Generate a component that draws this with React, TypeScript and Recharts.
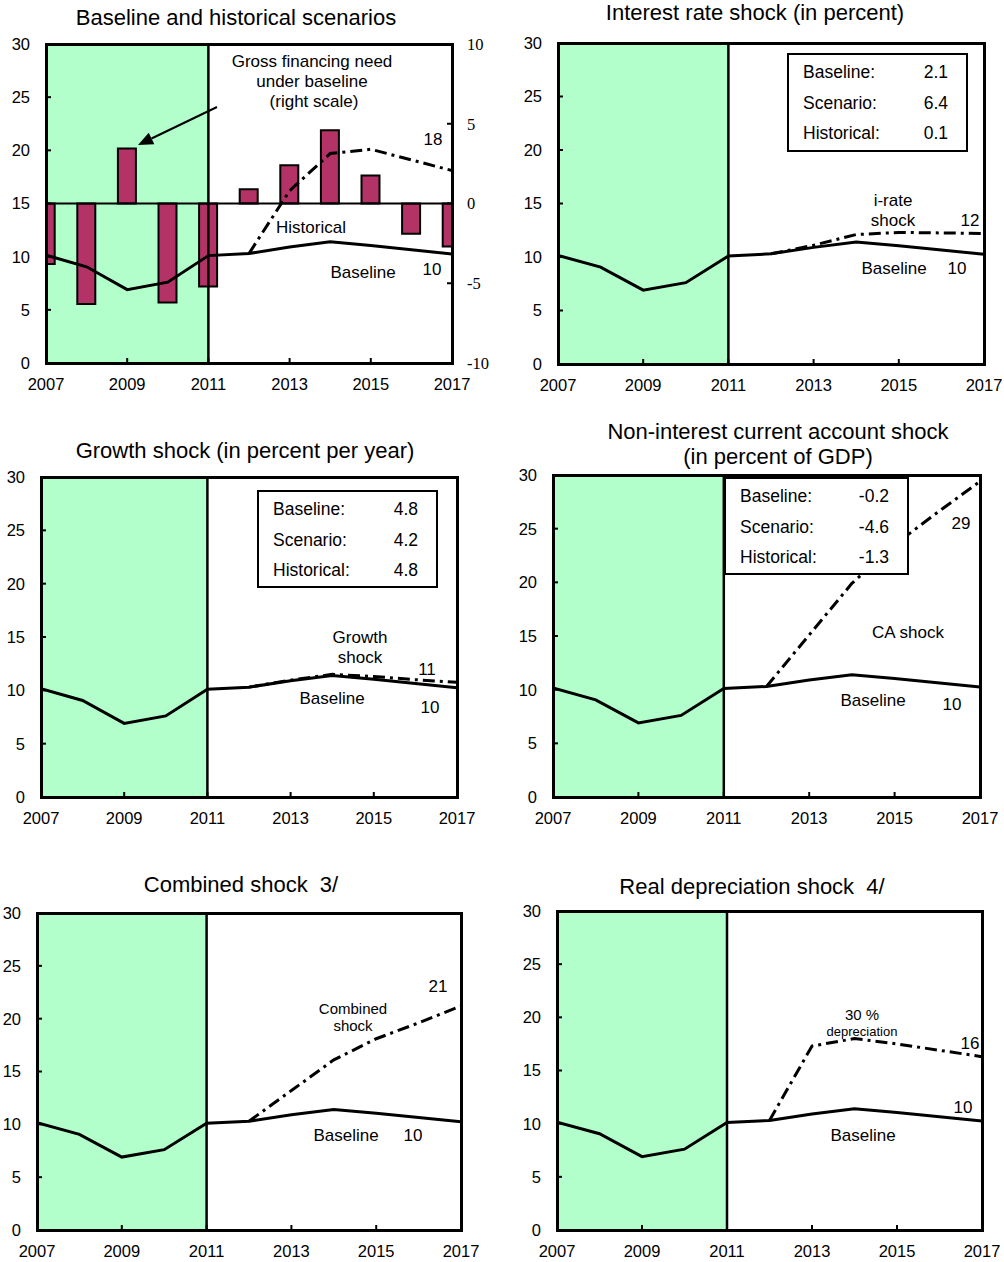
import React from 'react';
import { ComposedChart, Line, Bar, XAxis, YAxis, ReferenceArea, ReferenceLine } from 'recharts';

// years on the x axis
const years = [2007, 2008, 2009, 2010, 2011, 2012, 2013, 2014, 2015, 2016, 2017];
const yearTicks = [2007, 2009, 2011, 2013, 2015, 2017];
const leftTicks = [0, 5, 10, 15, 20, 25, 30];
const rightTicks = [-10, -5, 0, 5, 10];

const baseline = [10.15, 9.05, 6.9, 7.6, 10.1, 10.3, 10.9, 11.4, 11.05, 10.65, 10.25];
const grossFinancing = [-3.8, -6.3, 3.45, -6.2, -5.2, 0.9, 2.4, 4.6, 1.75, -1.9, -2.7];
const historical = [null, null, null, null, null, 10.3, 16.2, 19.7, 20.1, 19.1, 18.1];
const iRateShock = [null, null, null, null, null, 10.3, 11.1, 12.1, 12.3, 12.25, 12.2];
const growthShock = [null, null, null, null, null, 10.3, 10.95, 11.5, 11.3, 11.0, 10.75];
const caShock = [null, null, null, null, null, 10.3, 15.1, 19.9, 23.5, 26.5, 29.4];
const combinedShock = [null, null, null, null, null, 10.3, 13.2, 16.1, 18.1, 19.6, 21.2];
const depreciationShock = [null, null, null, null, null, 10.3, 17.3, 18.0, 17.5, 16.9, 16.3];

const statLabels = ['Baseline:', 'Scenario:', 'Historical:'];
const iRateStats = ['2.1', '6.4', '0.1'];
const growthStats = ['4.8', '4.2', '4.8'];
const caStats = ['-0.2', '-4.6', '-1.3'];

const FONT = '"Liberation Sans", Arial, sans-serif';
const SERIF = '"Liberation Serif", "Times New Roman", serif';
const GREEN = '#b3ffcc';
const BAR = '#b33366';
const DASHDOT = '12 5 3 5';

type Rect = { x: number; y: number; w: number; h: number };

const YW = 45;
const RW = 42;
const TOP = 10;
const XH = 40;

function Panel({ plot, shock, bars }: { plot: Rect; shock: (number | null)[]; bars?: number[] }) {
  const data = years.map((year, i) => ({
    year,
    baseline: baseline[i],
    shock: shock[i],
    gfn: bars ? bars[i] : null,
  }));
  const tickLine = { stroke: '#000', strokeWidth: 2 };
  return (
    <div style={{ position: 'absolute', left: plot.x - YW, top: plot.y - TOP }}>
      <ComposedChart
        width={YW + plot.w + RW}
        height={TOP + plot.h + XH}
        data={data}
        margin={{ top: TOP, right: bars ? 0 : RW, left: 0, bottom: 0 }}
      >
        <XAxis
          dataKey="year"
          type="number"
          domain={[2007, 2017]}
          ticks={yearTicks}
          interval={0}
          allowDataOverflow
          height={XH}
          axisLine={false}
          tickSize={-5}
          tickMargin={20}
          tickLine={tickLine}
          tick={{ fill: '#000', fontSize: 16.5, fontFamily: FONT }}
        />
        <YAxis
          yAxisId="left"
          domain={[0, 30]}
          ticks={leftTicks}
          interval={0}
          width={YW}
          axisLine={false}
          tickSize={-5}
          tickMargin={21}
          tickLine={tickLine}
          tick={{ fill: '#000', fontSize: 16.5, fontFamily: FONT }}
        />
        {bars && (
          <YAxis
            yAxisId="right"
            orientation="right"
            domain={[-10, 10]}
            ticks={rightTicks}
            interval={0}
            width={RW}
            axisLine={false}
            tickSize={-5}
            tickMargin={20}
            tickLine={tickLine}
            tick={{ fill: '#000', fontSize: 16.5, fontFamily: SERIF, textAnchor: 'start' }}
          />
        )}
        <ReferenceArea yAxisId="left" x1={2007} x2={2011} y1={0} y2={30} fill={GREEN} fillOpacity={1} stroke="none" />
        {bars && (
          <Bar
            yAxisId="right"
            dataKey="gfn"
            barSize={18}
            fill={BAR}
            stroke="#000"
            strokeWidth={2}
            isAnimationActive={false}
          />
        )}
        {bars && <ReferenceLine yAxisId="right" y={0} stroke="#000" strokeWidth={2} />}
        <ReferenceLine yAxisId="left" x={2011} stroke="#000" strokeWidth={2.5} />
        <Line
          yAxisId="left"
          dataKey="shock"
          stroke="#000"
          strokeWidth={3}
          strokeDasharray={DASHDOT}
          dot={false}
          activeDot={false}
          isAnimationActive={false}
        />
        <Line
          yAxisId="left"
          dataKey="baseline"
          stroke="#000"
          strokeWidth={3}
          dot={false}
          activeDot={false}
          isAnimationActive={false}
        />
      </ComposedChart>
      {/* plot frame */}
      <div
        style={{
          position: 'absolute',
          left: YW - 1.5,
          top: TOP - 1.5,
          width: plot.w + 3,
          height: plot.h + 3,
          border: '3px solid #000',
          boxSizing: 'border-box',
          pointerEvents: 'none',
        }}
      />
    </div>
  );
}

function Note({ x, y, children, size = 17 }: { x: number; y: number; children: React.ReactNode; size?: number }) {
  return (
    <div
      style={{
        position: 'absolute',
        left: x,
        top: y,
        transform: 'translate(-50%, -50%)',
        fontSize: size,
        fontFamily: FONT,
        lineHeight: 1,
        whiteSpace: 'nowrap',
        color: '#000',
      }}
    >
      {children}
    </div>
  );
}

function StatBox({ left, top, width, height, values }: { left: number; top: number; width: number; height: number; values: string[] }) {
  return (
    <div
      style={{
        position: 'absolute',
        left,
        top,
        width,
        height,
        border: '2px solid #000',
        background: '#fff',
        boxSizing: 'border-box',
        fontFamily: FONT,
        fontSize: 17.5,
      }}
    >
      {statLabels.map((label, i) => (
        <React.Fragment key={label}>
          <div style={{ position: 'absolute', left: 14, top: 20 + 30.5 * i - 2, transform: 'translateY(-50%)', lineHeight: 1 }}>
            {label}
          </div>
          <div style={{ position: 'absolute', right: 18, top: 20 + 30.5 * i - 2, transform: 'translateY(-50%)', lineHeight: 1 }}>
            {values[i]}
          </div>
        </React.Fragment>
      ))}
    </div>
  );
}

function Arrow({ from, to }: { from: [number, number]; to: [number, number] }) {
  const dx = to[0] - from[0];
  const dy = to[1] - from[1];
  const len = Math.hypot(dx, dy);
  const ux = dx / len;
  const uy = dy / len;
  const head = 15;
  const half = 6.5;
  const bx = to[0] - head * ux;
  const by = to[1] - head * uy;
  const pts = `${to[0]},${to[1]} ${bx - half * uy},${by + half * ux} ${bx + half * uy},${by - half * ux}`;
  return (
    <svg width={1004} height={1262} style={{ position: 'absolute', left: 0, top: 0, pointerEvents: 'none' }}>
      <line x1={from[0]} y1={from[1]} x2={bx} y2={by} stroke="#000" strokeWidth={2} />
      <polygon points={pts} fill="#000" />
    </svg>
  );
}

export default function App() {
  return (
    <div style={{ position: 'absolute', left: 0, top: 0, width: 1004, height: 1262, background: '#fff', overflow: 'hidden' }}>
      {/* 1: baseline and historical */}
      <Panel plot={{ x: 46, y: 44, w: 406, h: 319 }} shock={historical} bars={grossFinancing} />
      <Note x={236} y={18} size={22}>Baseline and historical scenarios</Note>
      <Note x={312} y={61}>Gross financing need</Note>
      <Note x={312} y={81}>under baseline</Note>
      <Note x={314} y={101}>(right scale)</Note>
      <Note x={433} y={139}>18</Note>
      <Note x={311} y={227}>Historical</Note>
      <Note x={363} y={272}>Baseline</Note>
      <Note x={432} y={269}>10</Note>
      <Arrow from={[217, 107]} to={[138, 145]} />

      {/* 2: interest rate */}
      <Panel plot={{ x: 558, y: 43, w: 426, h: 321 }} shock={iRateShock} />
      <Note x={755} y={13} size={22}>Interest rate shock (in percent)</Note>
      <StatBox left={787} top={53} width={181} height={99} values={iRateStats} />
      <Note x={893} y={200}>i-rate</Note>
      <Note x={893} y={220}>shock</Note>
      <Note x={970} y={220}>12</Note>
      <Note x={894} y={268}>Baseline</Note>
      <Note x={957} y={268}>10</Note>

      {/* 3: growth */}
      <Panel plot={{ x: 41, y: 477, w: 416, h: 320 }} shock={growthShock} />
      <Note x={245} y={451} size={22}>Growth shock (in percent per year)</Note>
      <StatBox left={257} top={490} width={181} height={98} values={growthStats} />
      <Note x={360} y={637}>Growth</Note>
      <Note x={360} y={657}>shock</Note>
      <Note x={427} y={669}>11</Note>
      <Note x={332} y={698}>Baseline</Note>
      <Note x={430} y={707}>10</Note>

      {/* 4: current account */}
      <Panel plot={{ x: 553, y: 475, w: 427, h: 322 }} shock={caShock} />
      <Note x={778} y={432} size={22}>Non-interest current account shock</Note>
      <Note x={778} y={457} size={22}>(in percent of GDP)</Note>
      <StatBox left={724} top={477} width={185} height={98} values={caStats} />
      <Note x={961} y={523}>29</Note>
      <Note x={908} y={632}>CA shock</Note>
      <Note x={873} y={700}>Baseline</Note>
      <Note x={952} y={704}>10</Note>

      {/* 5: combined */}
      <Panel plot={{ x: 37, y: 913, w: 424, h: 317 }} shock={combinedShock} />
      <Note x={241} y={885} size={22}>Combined shock&nbsp;&nbsp;3/</Note>
      <Note x={438} y={986}>21</Note>
      <Note x={353} y={1008} size={15}>Combined</Note>
      <Note x={353} y={1025} size={15}>shock</Note>
      <Note x={346} y={1135}>Baseline</Note>
      <Note x={413} y={1135}>10</Note>

      {/* 6: real depreciation */}
      <Panel plot={{ x: 557, y: 911, w: 425, h: 319 }} shock={depreciationShock} />
      <Note x={752} y={887} size={22}>Real depreciation shock&nbsp;&nbsp;4/</Note>
      <Note x={862} y={1014} size={15}>30 %</Note>
      <Note x={862} y={1031} size={13}>depreciation</Note>
      <Note x={970} y={1043}>16</Note>
      <Note x={963} y={1107}>10</Note>
      <Note x={863} y={1135}>Baseline</Note>
    </div>
  );
}
